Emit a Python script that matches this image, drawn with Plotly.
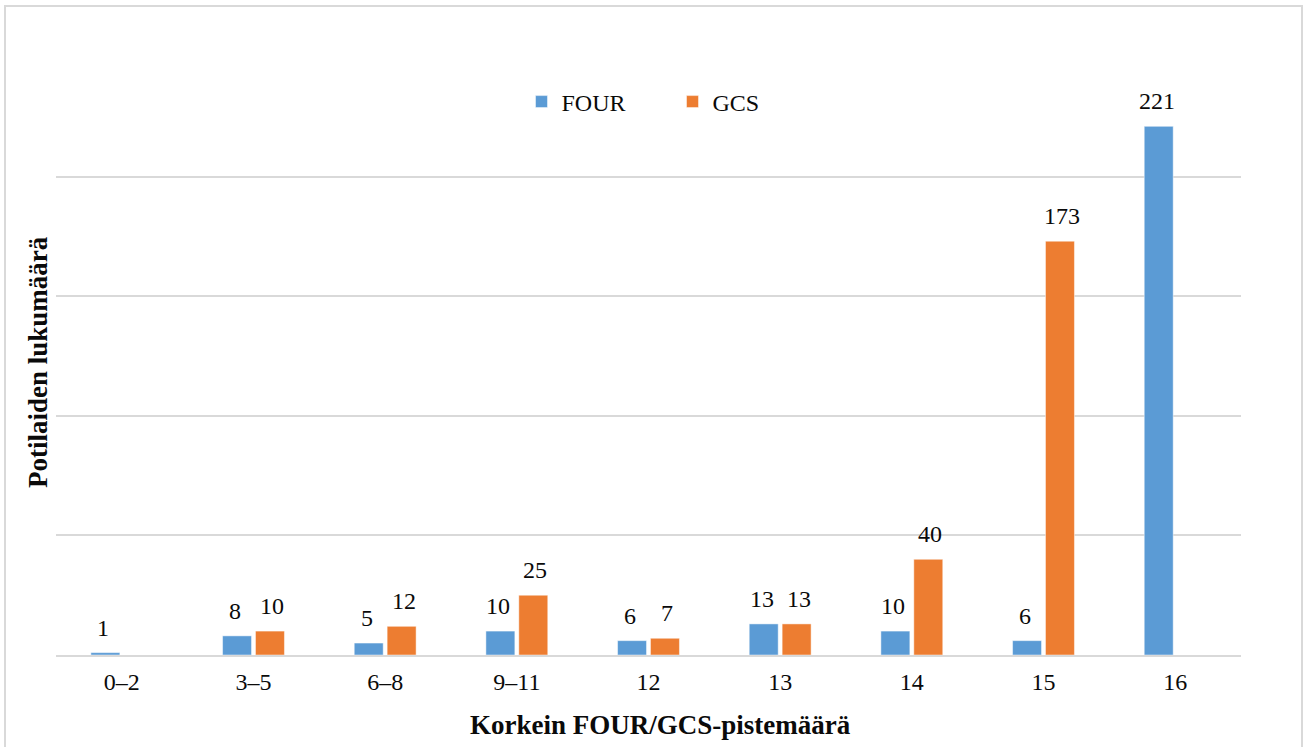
import plotly.graph_objects as go

# Score bands and patient counts per scale
categories = ["0–2", "3–5", "6–8", "9–11", "12", "13", "14", "15", "16"]
four_counts = [1, 8, 5, 10, 6, 13, 10, 6, 221]
gcs_counts = [None, 10, 12, 25, 7, 13, 40, 173, None]

series_names = ["FOUR", "GCS"]
series_colors = ["#5B9BD5", "#ED7D31"]

y_ticks = [0, 50, 100, 150, 200, 250]

W, H = 1306, 747
L, R, T, B = 56, 65, 57, 92
plot_w = W - L - R
plot_h = H - T - B

FONT = "Times New Roman, Liberation Serif, serif"
TEXT = "#0a0a0a"
GRID = "#d9d9d9"
LABEL_SIZE = 24
TITLE_SIZE = 27

fig = go.Figure()
for name, vals, color in zip(series_names, [four_counts, gcs_counts], series_colors):
    fig.add_trace(go.Bar(
        name=name,
        x=list(range(len(categories))),
        y=vals,
        marker=dict(color=color, line=dict(color="rgba(255,255,255,0.6)", width=0.8)),
    ))

# Value labels above each bar
bar_offset = 18.5  # half of bar width + inner gap, in px
annotations = []
for vals, shift in [(four_counts, -bar_offset), (gcs_counts, bar_offset)]:
    for i, v in enumerate(vals):
        if v is None:
            continue
        annotations.append(dict(
            x=i, y=v, xref="x", yref="y", text=str(v), showarrow=False,
            xshift=shift, yshift=10, yanchor="bottom",
            font=dict(family=FONT, size=LABEL_SIZE, color=TEXT),
        ))

# Axis titles
annotations.append(dict(
    x=(660 - L) / plot_w, y=-(725 - (T + plot_h)) / plot_h,
    xref="paper", yref="paper", text="<b>Korkein FOUR/GCS-pistemäärä</b>",
    showarrow=False, xanchor="center", yanchor="middle",
    font=dict(family=FONT, size=TITLE_SIZE, color=TEXT),
))
annotations.append(dict(
    x=(38 - L) / plot_w, y=(T + plot_h - 362) / plot_h, xref="paper", yref="paper",
    text="<b>Potilaiden lukumäärä</b>", textangle=-90,
    showarrow=False, xanchor="center", yanchor="middle",
    font=dict(family=FONT, size=TITLE_SIZE, color=TEXT),
))

# Outer frame around the chart area
frame = dict(
    type="rect", xref="paper", yref="paper",
    x0=(5 - L) / plot_w, x1=(1302 - L) / plot_w,
    y0=(T + plot_h - 760) / plot_h, y1=(T + plot_h - 6) / plot_h,
    line=dict(color=GRID, width=2), fillcolor="rgba(0,0,0,0)", layer="below",
)

fig.update_layout(
    width=W, height=H,
    margin=dict(l=L, r=R, t=T, b=B),
    paper_bgcolor="white", plot_bgcolor="white",
    barmode="group", bargap=0.5, bargroupgap=0.12,
    font=dict(family=FONT, size=LABEL_SIZE, color=TEXT),
    showlegend=True,
    legend=dict(
        orientation="h", x=0.5 + 24 / plot_w, xanchor="center",
        y=(T + plot_h - 102) / plot_h, yanchor="middle",
        font=dict(family=FONT, size=LABEL_SIZE, color=TEXT),
        bgcolor="rgba(0,0,0,0)",
        entrywidth=106, entrywidthmode="pixels",
    ),
    annotations=annotations,
    shapes=[frame],
)
fig.update_xaxes(
    range=[-0.5, len(categories) - 0.5],
    tickvals=list(range(len(categories))), ticktext=categories,
    showgrid=False, showline=True, linecolor=GRID, linewidth=1.5,
    ticks="", tickfont=dict(family=FONT, size=LABEL_SIZE, color=TEXT),
    ticklabelstandoff=4,
)
fig.update_yaxes(
    range=[0, 250], tickvals=y_ticks, showticklabels=False, showgrid=True,
    gridcolor=GRID, gridwidth=1.5, zeroline=False, showline=False, ticks="",
)

fig.write_html("out.html")
